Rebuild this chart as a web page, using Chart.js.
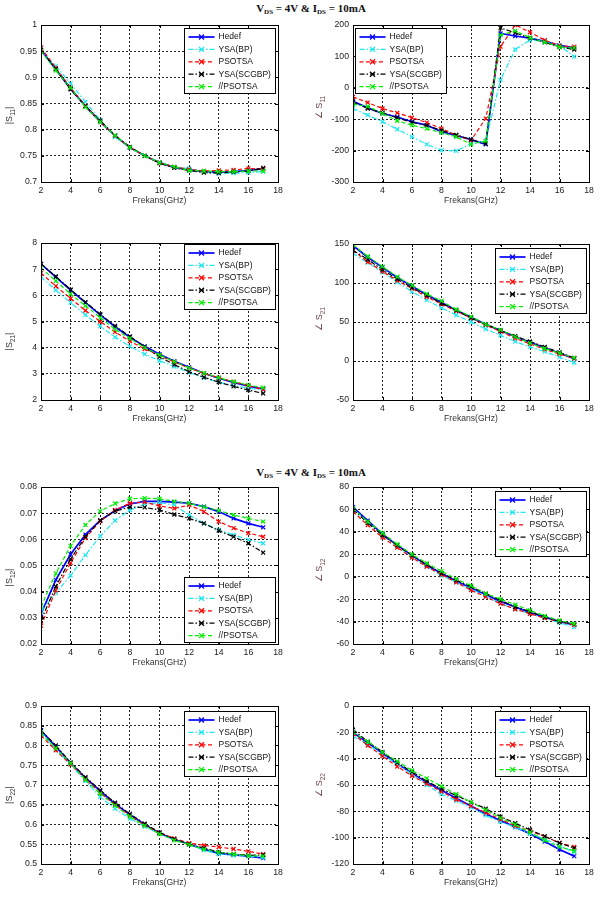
<!DOCTYPE html>
<html>
<head>
<meta charset="utf-8">
<script src="https://cdn.jsdelivr.net/npm/chart.js@4.4.1/dist/chart.umd.min.js"></script>
<style>
  body { margin: 0; background: #fff; }
  #page { position: relative; width: 601px; height: 914px; overflow: hidden; background: #fff; }
  .box { position: absolute; }
  .title { position: absolute; left: 0; width: 622px; text-align: center; font: bold 11px "Liberation Serif", serif; color: #111; line-height: 12px; }
  .title sub { font-size: 7px; vertical-align: -2px; line-height: 0; }
</style>
</head>
<body>
<div id="page">
  <div class="title" style="top:2px">V<sub>DS</sub> = 4V &amp; I<sub>DS</sub> = 10mA</div>
  <div class="title" style="top:466px">V<sub>DS</sub> = 4V &amp; I<sub>DS</sub> = 10mA</div>
</div>
<script>
// frequency points (GHz)
const freqs = [2, 3, 4, 5, 6, 7, 8, 9, 10, 11, 12, 13, 14, 15, 16, 17];
const names = ['Hedef', 'YSA(BP)', 'PSOTSA', 'YSA(SCGBP)', '//PSOTSA'];
const xTicks = [2, 18, 2]; // min, max, step

// each panel: rows in the order of names
const s11Mag = [
  [0.953, 0.915, 0.878, 0.845, 0.815, 0.788, 0.766, 0.750, 0.737, 0.728, 0.723, 0.720, 0.719, 0.720, 0.722, 0.725],
  [0.950, 0.922, 0.888, 0.853, 0.818, 0.786, 0.765, 0.750, 0.738, 0.729, 0.726, 0.719, 0.716, 0.717, 0.718, 0.720],
  [0.957, 0.918, 0.880, 0.846, 0.815, 0.788, 0.766, 0.750, 0.737, 0.729, 0.724, 0.721, 0.722, 0.723, 0.726, 0.725],
  [0.952, 0.916, 0.877, 0.845, 0.817, 0.789, 0.767, 0.750, 0.736, 0.727, 0.722, 0.718, 0.717, 0.719, 0.721, 0.727],
  [0.950, 0.913, 0.880, 0.843, 0.815, 0.789, 0.766, 0.750, 0.737, 0.729, 0.722, 0.721, 0.720, 0.720, 0.721, 0.721]
];
const s11Ang = [
  [-43, -64, -82, -93, -108, -119, -140, -152, -165, -180, 173, 165, 158, 148, 135, 127],
  [-66, -87, -108, -132, -156, -180, -199, -201, -178, -170, 25, 122, 152, 148, 135, 99],
  [-29, -47, -66, -80, -95, -111, -130, -151, -167, -98, 131, 200, 177, 152, 134, 131],
  [-45, -66, -80, -96, -110, -120, -136, -150, -165, -178, 191, 175, 158, 145, 130, 122],
  [-53, -59, -82, -105, -119, -130, -143, -156, -180, -169, 168, 181, 160, 145, 130, 127]
];
const s21Mag = [
  [7.20, 6.70, 6.20, 5.72, 5.25, 4.80, 4.40, 4.05, 3.75, 3.48, 3.25, 3.02, 2.83, 2.67, 2.53, 2.42],
  [6.70, 6.20, 5.72, 5.25, 4.82, 4.40, 4.05, 3.75, 3.50, 3.28, 3.05, 2.85, 2.68, 2.55, 2.45, 2.38],
  [6.85, 6.35, 5.88, 5.42, 5.00, 4.60, 4.25, 3.95, 3.70, 3.45, 3.22, 3.02, 2.85, 2.70, 2.55, 2.40],
  [7.20, 6.72, 6.22, 5.74, 5.28, 4.83, 4.43, 4.03, 3.65, 3.35, 3.08, 2.87, 2.68, 2.52, 2.38, 2.25],
  [7.05, 6.55, 6.05, 5.60, 5.15, 4.70, 4.35, 4.00, 3.72, 3.47, 3.22, 3.03, 2.85, 2.70, 2.57, 2.47]
];
const s21Ang = [
  [148, 133, 120, 107, 96, 85, 75, 65, 56, 47, 39, 31, 24, 17, 10, 3],
  [138, 126, 114, 101, 89, 78, 68, 59, 50, 41, 33, 25, 18, 12, 5, -2],
  [142, 127, 115, 103, 93, 82, 73, 64, 55, 46, 38, 29, 22, 15, 9, 3],
  [142, 130, 117, 105, 94, 84, 74, 65, 55, 47, 39, 32, 25, 18, 11, 4],
  [149, 134, 121, 108, 97, 86, 77, 66, 57, 47, 40, 31, 23, 16, 10, 4]
];
const s12Mag = [
  [0.0315, 0.0445, 0.0543, 0.0618, 0.0672, 0.0710, 0.0735, 0.0745, 0.0745, 0.0742, 0.0738, 0.0725, 0.0706, 0.0680, 0.0661, 0.0646],
  [0.0325, 0.0395, 0.0462, 0.0540, 0.0612, 0.0672, 0.0712, 0.0735, 0.0740, 0.0731, 0.0693, 0.0661, 0.0636, 0.0617, 0.0598, 0.0585],
  [0.0270, 0.0405, 0.0510, 0.0605, 0.0670, 0.0712, 0.0738, 0.0742, 0.0728, 0.0718, 0.0731, 0.0706, 0.0668, 0.0643, 0.0624, 0.0610],
  [0.0290, 0.0420, 0.0525, 0.0610, 0.0672, 0.0708, 0.0723, 0.0722, 0.0712, 0.0695, 0.0680, 0.0661, 0.0633, 0.0610, 0.0585, 0.0549],
  [0.0343, 0.0470, 0.0575, 0.0655, 0.0708, 0.0737, 0.0755, 0.0757, 0.0755, 0.0745, 0.0738, 0.0724, 0.0710, 0.0693, 0.0680, 0.0668]
];
const s12Ang = [
  [62, 50, 38, 28, 19, 10, 3, -4, -10, -16, -22, -27, -32, -36, -40, -43],
  [60, 48, 37, 27, 18, 9, 1, -5, -11, -17, -24, -29, -33, -37, -41, -45],
  [58, 46, 35, 26, 17, 9, 2, -5, -12, -18, -24, -29, -33, -37, -40, -43],
  [60, 48, 37, 28, 19, 11, 3, -3, -9, -15, -21, -27, -31, -36, -40, -42],
  [61, 49, 39, 29, 20, 12, 5, -2, -8, -15, -20, -25, -30, -35, -39, -42]
];
const s22Mag = [
  [0.838, 0.797, 0.755, 0.718, 0.685, 0.652, 0.625, 0.600, 0.578, 0.562, 0.550, 0.537, 0.527, 0.523, 0.520, 0.515],
  [0.835, 0.790, 0.752, 0.710, 0.670, 0.640, 0.615, 0.595, 0.577, 0.562, 0.550, 0.535, 0.525, 0.522, 0.520, 0.517],
  [0.825, 0.788, 0.752, 0.715, 0.680, 0.650, 0.622, 0.598, 0.579, 0.565, 0.553, 0.547, 0.543, 0.538, 0.532, 0.525],
  [0.838, 0.800, 0.757, 0.720, 0.687, 0.655, 0.627, 0.602, 0.580, 0.563, 0.550, 0.540, 0.530, 0.525, 0.522, 0.523],
  [0.830, 0.793, 0.755, 0.713, 0.678, 0.648, 0.620, 0.597, 0.576, 0.560, 0.549, 0.537, 0.530, 0.525, 0.521, 0.520]
];
const s22Ang = [
  [-20, -28, -36, -44, -51, -58, -64, -70, -76, -82, -87, -92, -97, -103, -109, -114],
  [-23, -29, -37, -44, -52, -60, -67, -72, -77, -83, -88, -92, -97, -101, -106, -111],
  [-21, -30, -38, -46, -53, -59, -65, -71, -76, -81, -86, -91, -95, -99, -104, -107],
  [-18, -27, -35, -43, -50, -57, -63, -68, -73, -78, -84, -89, -94, -99, -104, -108],
  [-20, -27, -35, -42, -49, -55, -61, -67, -73, -79, -85, -90, -96, -102, -107, -110]
];

// y axis limits: [min, max, step]
const yLimits = [
  [0.7, 1, 0.05], [-300, 200, 100],
  [2, 8, 1], [-50, 150, 50],
  [0.02, 0.08, 0.01], [-60, 80, 20],
  [0.5, 0.9, 0.05], [-120, 0, 20]
];

// line look for each series
const looks = [
  { color: '#0000ff', dash: [], width: 1.7 },
  { color: '#1ee8f2', dash: [5, 2, 1.5, 2], width: 1.2 },
  { color: '#ff0000', dash: [4, 2.5], width: 1.2 },
  { color: '#000000', dash: [5, 2, 1.5, 2], width: 1.2 },
  { color: '#00ee00', dash: [4, 2.5], width: 1.2 }
];

const FONT = '"Liberation Sans", Arial, sans-serif';

// draws the box, inner ticks, axis labels and the legend inside the plot
const framePlugin = {
  id: 'frame',
  afterDraw(chart, args, opts) {
    const ctx = chart.ctx;
    const a = chart.chartArea;
    const xs = chart.scales.x, ys = chart.scales.y;
    ctx.save();
    ctx.strokeStyle = '#000';
    ctx.lineWidth = 1;
    ctx.setLineDash([]);
    ctx.strokeRect(Math.round(a.left) + 0.5, Math.round(a.top) + 0.5,
      Math.round(a.right - a.left), Math.round(a.bottom - a.top));

    // little tick marks on all four sides
    ctx.beginPath();
    xs.ticks.forEach((t, i) => {
      const x = Math.round(xs.getPixelForTick(i)) + 0.5;
      ctx.moveTo(x, a.bottom); ctx.lineTo(x, a.bottom - 3);
      ctx.moveTo(x, a.top); ctx.lineTo(x, a.top + 3);
    });
    ys.ticks.forEach((t, i) => {
      const y = Math.round(ys.getPixelForTick(i)) + 0.5;
      ctx.moveTo(a.left, y); ctx.lineTo(a.left + 3, y);
      ctx.moveTo(a.right, y); ctx.lineTo(a.right - 3, y);
    });
    ctx.stroke();

    // x label
    ctx.fillStyle = '#333';
    ctx.font = '8.6px ' + FONT;
    ctx.textAlign = 'center';
    ctx.textBaseline = 'middle';
    ctx.fillText('Frekans(GHz)', (a.left + a.right) / 2, a.bottom + 19);

    // y label with subscript, rotated
    const yl = opts.ylabel;
    ctx.save();
    ctx.translate(a.left - opts.ylabelGap, (a.top + a.bottom) / 2 + yl.shift);
    ctx.rotate(-Math.PI / 2);
    ctx.fillStyle = yl.color;
    ctx.textAlign = 'left';
    ctx.textBaseline = 'middle';
    const big = '9px ' + FONT, small = '6.5px ' + FONT;
    ctx.font = big; const w1 = ctx.measureText(yl.pre).width;
    ctx.font = small; const w2 = ctx.measureText(yl.sub).width;
    ctx.font = big; const w3 = ctx.measureText(yl.post).width;
    let x0 = -(w1 + w2 + w3) / 2;
    ctx.font = big; ctx.fillText(yl.pre, x0, 0);
    ctx.font = small; ctx.fillText(yl.sub, x0 + w1, 3);
    ctx.font = big; ctx.fillText(yl.post, x0 + w1 + w2, 0);
    ctx.restore();

    // legend box
    const w = 91, h = 65;
    let bx, by;
    if (opts.corner === 'tl') { bx = a.left + 2; by = a.top + 3; }
    else if (opts.corner === 'br') { bx = a.right - 3 - w; by = a.bottom - 2 - h; }
    else { bx = a.right - 3 - w; by = a.top + opts.top; }
    bx = Math.round(bx) + 0.5; by = Math.round(by) + 0.5;
    ctx.fillStyle = '#fff';
    ctx.fillRect(bx, by, w, h);
    ctx.strokeStyle = '#000';
    ctx.lineWidth = 1;
    ctx.strokeRect(bx, by, w, h);
    ctx.font = '8.5px ' + FONT;
    ctx.textAlign = 'left';
    ctx.textBaseline = 'middle';
    chart.data.datasets.forEach((ds, i) => {
      const y = by + 8.5 + i * 12.4;
      ctx.strokeStyle = ds.borderColor;
      ctx.lineWidth = ds.borderWidth;
      ctx.setLineDash(ds.borderDash);
      ctx.beginPath(); ctx.moveTo(bx + 4, y); ctx.lineTo(bx + 30, y); ctx.stroke();
      ctx.setLineDash([]);
      ctx.lineWidth = 1.3;
      ctx.beginPath();
      ctx.moveTo(bx + 14.5, y - 2.5); ctx.lineTo(bx + 19.5, y + 2.5);
      ctx.moveTo(bx + 14.5, y + 2.5); ctx.lineTo(bx + 19.5, y - 2.5);
      ctx.stroke();
      ctx.fillStyle = '#111';
      ctx.fillText(ds.label, bx + 34, y);
    });
    ctx.restore();
  }
};

// plot rectangles: left, top, right, bottom (page pixels)
const MAG = '#333', ANG = '#6e4545';
const panels = [
  { data: s11Mag, rect: [41, 25, 278, 182], lab: { pre: '|S', sub: '11', post: '|', color: MAG, shift: 12 }, corner: 'tr', top: 3 },
  { data: s11Ang, rect: [353, 25, 589, 182], lab: { pre: '\u2220 S', sub: '11', post: '', color: ANG, shift: 4 }, corner: 'tl', top: 3 },
  { data: s21Mag, rect: [41, 243, 278, 400], lab: { pre: '|S', sub: '21', post: '|', color: MAG, shift: 20 }, corner: 'tr', top: 1 },
  { data: s21Ang, rect: [353, 244, 589, 400], lab: { pre: '\u2220 S', sub: '21', post: '', color: ANG, shift: -3 }, corner: 'tr', top: 4 },
  { data: s12Mag, rect: [41, 487, 278, 644], lab: { pre: '|S', sub: '12', post: '|', color: MAG, shift: 12 }, corner: 'br', top: 0 },
  { data: s12Ang, rect: [353, 487, 589, 644], lab: { pre: '\u2220 S', sub: '12', post: '', color: ANG, shift: 5 }, corner: 'tr', top: 4 },
  { data: s22Mag, rect: [41, 706, 278, 864], lab: { pre: '|S', sub: '22', post: '|', color: MAG, shift: 10 }, corner: 'tr', top: 5 },
  { data: s22Ang, rect: [353, 706, 589, 864], lab: { pre: '\u2220 S', sub: '22', post: '', color: ANG, shift: 0 }, corner: 'tr', top: 5 }
];

const page = document.getElementById('page');

panels.forEach((p, k) => {
  const [pl, pt, pr, pb] = p.rect;
  const left = k % 2 === 0 ? 0 : 300;
  const padR = k % 2 === 0 ? 22 : 12;
  const yw = pl - left;
  const w = pr - left + padR;
  const h = 10 + (pb - pt) + 30;
  const div = document.createElement('div');
  div.className = 'box';
  div.style.left = left + 'px';
  div.style.top = (pt - 10) + 'px';
  const cv = document.createElement('canvas');
  cv.width = w; cv.height = h;
  cv.style.width = w + 'px'; cv.style.height = h + 'px';
  div.appendChild(cv);
  page.appendChild(div);

  const lim = yLimits[k];
  const datasets = p.data.map((vals, i) => ({
    label: names[i],
    data: vals.map((v, j) => ({ x: freqs[j], y: v })),
    borderColor: looks[i].color,
    backgroundColor: looks[i].color,
    borderWidth: looks[i].width,
    borderDash: looks[i].dash,
    pointStyle: 'crossRot',
    pointRadius: 2.8,
    pointBorderWidth: 1.2,
    pointBorderColor: looks[i].color,
    tension: 0,
    order: names.length - i
  }));

  new Chart(cv, {
    type: 'line',
    data: { datasets },
    plugins: [framePlugin],
    options: {
      responsive: false,
      animation: false,
      devicePixelRatio: 1,
      layout: { padding: { left: 0, top: 10, right: padR, bottom: 0 } },
      plugins: {
        legend: { display: false },
        tooltip: { enabled: false },
        frame: { ylabel: p.lab, ylabelGap: k % 2 === 0 ? 31 : 33, corner: p.corner, top: p.top }
      },
      scales: {
        x: {
          type: 'linear',
          min: xTicks[0], max: xTicks[1],
          afterFit(s) { s.height = 30; },
          ticks: { stepSize: xTicks[2], maxRotation: 0, autoSkip: false, padding: 3,
                   color: '#222', font: { size: 8.7, family: FONT } },
          grid: { color: '#222', lineWidth: 1, drawTicks: false, borderDash: [2, 2] },
          border: { display: true, color: '#000', dash: [2, 2] }
        },
        y: {
          min: lim[0], max: lim[1],
          afterFit(s) { s.width = yw; },
          ticks: { stepSize: lim[2], autoSkip: false, padding: 4, color: '#222',
                   font: { size: 8.7, family: FONT },
                   callback: v => String(+v.toFixed(4)) },
          grid: { color: '#222', lineWidth: 1, drawTicks: false, borderDash: [2, 2] },
          border: { display: true, color: '#000', dash: [2, 2] }
        }
      }
    }
  });
});
</script>
</body>
</html>
